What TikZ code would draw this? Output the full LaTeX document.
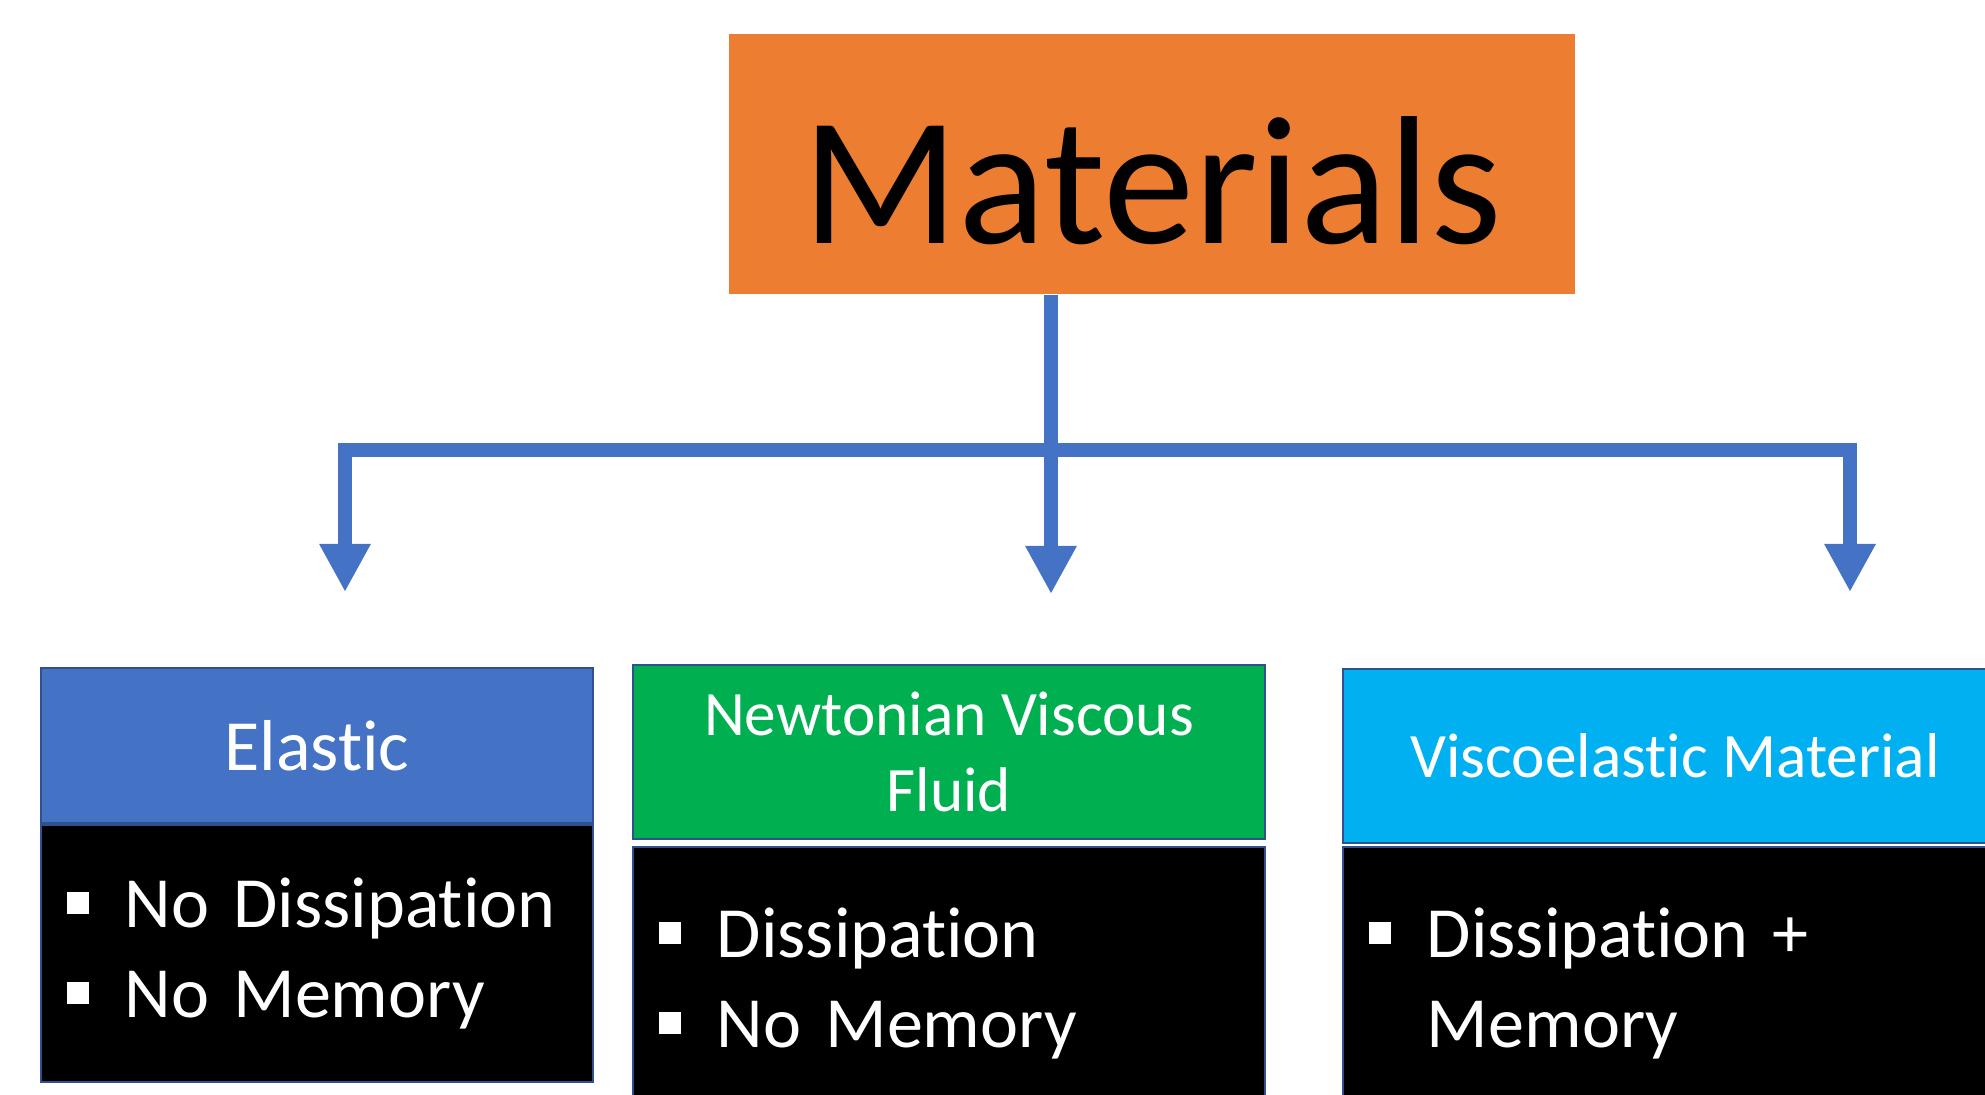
\documentclass[tikz,border=0pt]{standalone}
\usepackage{fontspec}
\setmainfont{Carlito}[RawFeature={-liga;-clig;-calt;-rlig;-ccmp}]
\usepackage{tikz}
\usetikzlibrary{arrows.meta,positioning}
\definecolor{matorange}{HTML}{ED7D31}
\definecolor{linkblue}{HTML}{4472C4}
\definecolor{elasticblue}{HTML}{4472C4}
\definecolor{fluidgreen}{HTML}{00B050}
\definecolor{viscocyan}{HTML}{00B0F0}
\definecolor{edgeblue}{HTML}{2F528F}
\tikzset{
  every picture/.style={line join=miter},
  % coloured title boxes and black lists under them
  headbox/.style={draw=edgeblue, line width=0.6pt, text=white, align=center, inner sep=0pt},
  bodybox/.style={draw=edgeblue, line width=0.6pt, fill=black, text=white, align=left,
    inner xsep=0.26cm, font=\fontsize{20.5}{25.6}\selectfont},
  branch/.style={draw=linkblue, line width=0.14cm, -{Triangle[width=0.48cm,length=0.48cm]}},
}
\newcommand{\sqbul}{\makebox[0.58cm][l]{\rule[0.14cm]{0.22cm}{0.22cm}}}

\begin{document}
\begin{tikzpicture}[x=0.01cm, y=-0.01cm]
    \useasboundingbox (0,0) rectangle (1985,1095);
    \clip (0,0) rectangle (1985,1095);

    % Top box
    \node[fill=matorange, minimum width=8.46cm, minimum height=2.6cm, inner sep=0pt,
      text height=1.58cm, text depth=0pt, font=\fontsize{52}{62}\selectfont] (mat) at (1152,164) {Materials};

    % Split point and arrow ends
    \coordinate (split) at (1051,450);
    \coordinate (tipE) at (345,592);
    \coordinate (tipN) at (1051,594);
    \coordinate (tipV) at (1850,592);

    % Arrows
    \draw[branch] (mat.south -| split) -- (tipN);
    \foreach \t in {tipE,tipV} {
        \draw[branch] (split) -| (\t);
    }

    % Headers
    \node[headbox, fill=elasticblue, minimum width=5.52cm, minimum height=1.55cm,
      font=\fontsize{20.5}{24.6}\selectfont] (ehead) at (317,745.5) {Elastic};
    \node[headbox, fill=fluidgreen, minimum width=6.32cm, minimum height=1.74cm,
      font=\fontsize{18}{21.6}\selectfont] (nhead) at (949,752) {Newtonian Viscous\\Fluid};
    \node[headbox, fill=viscocyan, minimum width=6.64cm, minimum height=1.74cm,
      font=\fontsize{18}{21.6}\selectfont] (vhead) at (1675,756) {Viscoelastic Material};

    % Lists
    \node[bodybox, minimum height=2.57cm, text width=5.0cm, below=0pt of ehead] (ebody)
      {\sqbul No Dissipation\\\sqbul No Memory};
    \node[bodybox, minimum height=2.73cm, text width=5.8cm, below=0.06cm of nhead] (nbody)
      {\sqbul Dissipation\\\sqbul No Memory};
    \node[bodybox, minimum height=2.73cm, text width=6.12cm, below=0.02cm of vhead] (vbody)
      {\sqbul Dissipation +\\\hspace*{0.58cm}Memory};
\end{tikzpicture}
\end{document}
